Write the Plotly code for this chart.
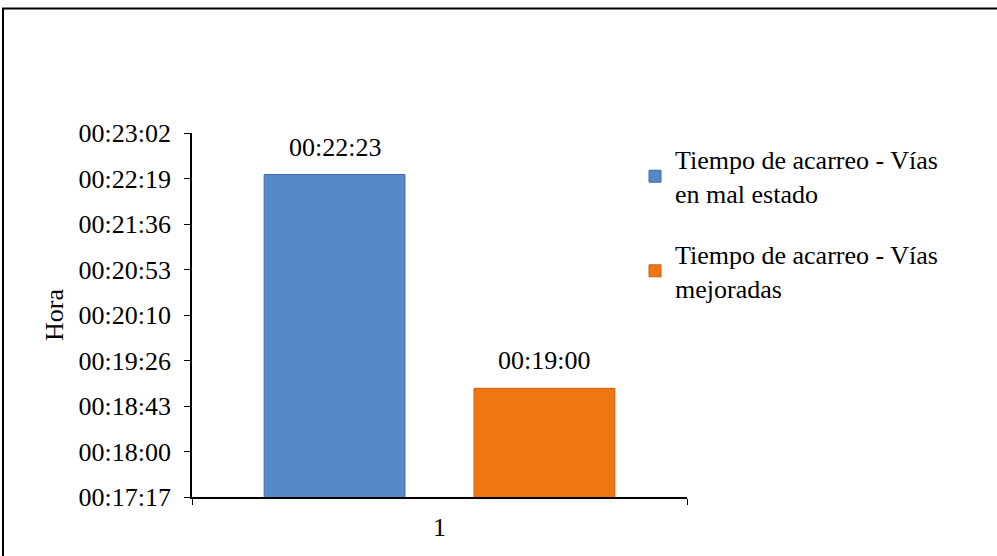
import plotly.graph_objects as go

categories = ["1"]
series_names = ["Tiempo de acarreo - Vías<br>en mal estado", "Tiempo de acarreo - Vías<br>mejoradas"]
series_values = ["00:22:23", "00:19:00"]
tick_labels = ["00:17:17", "00:18:00", "00:18:43", "00:19:26", "00:20:10",
               "00:20:53", "00:21:36", "00:22:19", "00:23:02"]
tick_days = [0.0120, 0.0125, 0.0130, 0.0135, 0.0140, 0.0145, 0.0150, 0.0155, 0.0160]
colors = ["#5589C8", "#F07613"]
line_colors = ["#3E6DA8", "#C85E0C"]


def to_sec(s):
    h, m, sec = (int(p) for p in s.split(":"))
    return h * 3600 + m * 60 + sec


FONT = "Liberation Serif, Times New Roman, serif"
FS = 26
BARGAP = 0.152
fig = go.Figure()
for name, val, c, lc in zip(series_names, series_values, colors, line_colors):
    fig.add_trace(go.Bar(
        x=categories, y=[to_sec(val)], name=name,
        marker=dict(color=c, line=dict(color=lc, width=1)),
        legendgroup=name,
    ))

# data labels above each bar (positions derived from the group layout)
n = len(series_values)
slot = (1 - BARGAP) / n
annotations = []
for i, val in enumerate(series_values):
    annotations.append(dict(
        x=-(1 - BARGAP) / 2 + slot * (i + 0.5), y=to_sec(val), xref="x", yref="y",
        text=val, showarrow=False, yanchor="bottom", yshift=11,
        font=dict(family=FONT, size=FS, color="black")))

tick_secs = [d * 86400 for d in tick_days]

fig.update_layout(
    width=997, height=556,
    margin=dict(l=192, r=310, t=133, b=59),
    paper_bgcolor="white", plot_bgcolor="white",
    font=dict(family=FONT, size=FS, color="black"),
    barmode="group", bargap=BARGAP, bargroupgap=0.329,
    showlegend=True,
    legend=dict(x=0.895, y=0.992, xanchor="left", yanchor="top",
                font=dict(family=FONT, size=FS, color="black"),
                tracegroupgap=24, bgcolor="rgba(0,0,0,0)"),
    xaxis=dict(type="category", showline=True, linecolor="black", linewidth=1.5,
               ticks="outside", tickson="boundaries", ticklen=6, tickcolor="black",
               ticklabelstandoff=6,
               showgrid=False, zeroline=False, range=[-0.5, 0.5]),
    yaxis=dict(range=[tick_secs[0], tick_secs[-1]], tickvals=tick_secs, ticktext=tick_labels,
               showline=True, linecolor="black", linewidth=1.5,
               ticks="outside", ticklen=6, tickcolor="black", ticklabelstandoff=8,
               showgrid=False, zeroline=False,
               title=dict(text="Hora", font=dict(family=FONT, size=FS), standoff=7)),
    annotations=annotations,
    shapes=[dict(type="rect", xref="paper", yref="paper",
                 x0=(3 - 192) / 495, x1=(1100 - 192) / 495,
                 y0=(497.3 - 600) / 364.6, y1=(497.3 - 8) / 364.6,
                 line=dict(color="black", width=2), fillcolor="rgba(0,0,0,0)", layer="below")],
)

fig.write_html("out.html")
